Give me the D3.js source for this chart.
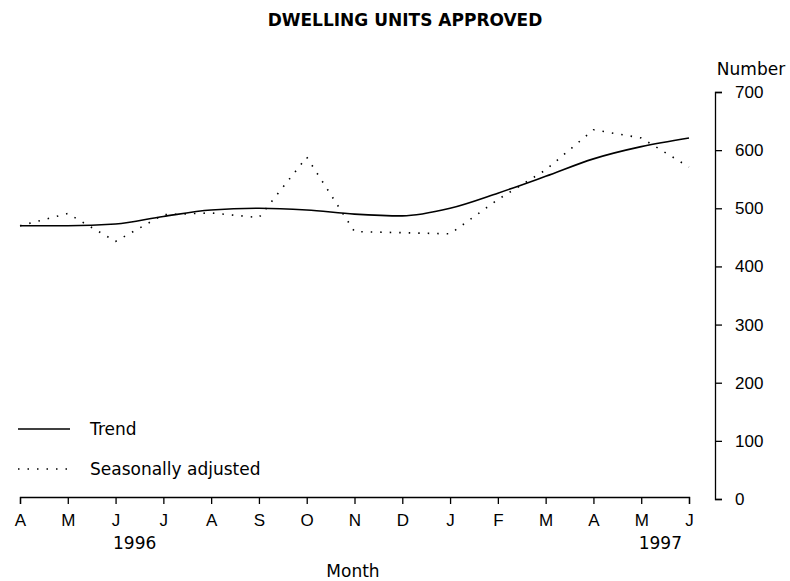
<!DOCTYPE html>
<html>
<head>
<meta charset="utf-8">
<script src="https://cdn.jsdelivr.net/npm/d3@7"></script>
<style>
  body { margin: 0; background: #fff; }
  svg { display: block; font-family: "DejaVu Sans", "Liberation Sans", Arial, sans-serif; }
</style>
</head>
<body>
<svg class="chart" width="790" height="581"></svg>
<script>
const months = ['A','M','J','J','A','S','O','N','D','J','F','M','A','M','J']
const trend = [470,470,473,486,497,500,497,490,487,500,526,555,585,606,621]
const seasonal = [470,491,443,489,492,484,588,460,458,456,515,566,635,621,571]
const yTicks = [0,100,200,300,400,500,600,700]
const years = [{label:'1996', at:2.4},{label:'1997', at:13.4}]

const svg = d3.select('.chart')

const xScale = d3.scalePoint()
  .domain(d3.range(months.length))
  .range([20, 689])

const yScale = d3.scaleLinear()
  .domain([0, 700])
  .range([499, 92])

// title
svg.append('text')
  .attr('x', 405).attr('y', 26)
  .attr('text-anchor', 'middle')
  .attr('font-size', 17).attr('font-weight', 'bold')
  .text('DWELLING UNITS APPROVED')

// right axis
const yAxis = svg.append('g')
  .attr('transform', 'translate(715,0)')
  .call(d3.axisRight(yScale).tickValues(yTicks).tickSize(7).tickSizeOuter(7).tickPadding(13))
yAxis.selectAll('text').attr('font-size', 17).attr('fill', '#000')
yAxis.selectAll('path, line').attr('stroke', '#000').attr('stroke-width', 1.3)

svg.append('text')
  .attr('x', 751).attr('y', 75)
  .attr('text-anchor', 'middle')
  .attr('font-size', 17)
  .text('Number')

// bottom axis
const xAxis = svg.append('g')
  .attr('transform', 'translate(0,497)')
  .call(d3.axisBottom(xScale).tickFormat(i => months[i]).tickSize(7).tickSizeOuter(7).tickPadding(10))
xAxis.selectAll('text').attr('font-size', 17).attr('fill', '#000')
xAxis.selectAll('path, line').attr('stroke', '#000').attr('stroke-width', 1.3)

svg.selectAll('.year')
  .data(years)
  .enter()
  .append('text')
  .attr('class', 'year')
  .attr('x', d => xScale(Math.floor(d.at)) + (d.at % 1) * xScale.step())
  .attr('y', 549)
  .attr('text-anchor', 'middle')
  .attr('font-size', 17)
  .text(d => d.label)

svg.append('text')
  .attr('x', 353).attr('y', 577)
  .attr('text-anchor', 'middle')
  .attr('font-size', 17)
  .text('Month')

// lines
const trendLine = d3.line()
  .x((d, i) => xScale(i))
  .y(d => yScale(d))
  .curve(d3.curveMonotoneX)

const seasonalLine = d3.line()
  .x((d, i) => xScale(i))
  .y(d => yScale(d))

svg.append('path')
  .datum(seasonal)
  .attr('d', seasonalLine)
  .attr('fill', 'none')
  .attr('stroke', '#000')
  .attr('stroke-width', 1.6)
  .attr('stroke-dasharray', '1.5,8')

svg.append('path')
  .datum(trend)
  .attr('d', trendLine)
  .attr('fill', 'none')
  .attr('stroke', '#000')
  .attr('stroke-width', 1.6)

// legend
const legend = [
  {name:'Trend', dash:null, y:429},
  {name:'Seasonally adjusted', dash:'1.5,8', y:469}
]
const lg = svg.selectAll('.legend')
  .data(legend)
  .enter()
  .append('g')
  .attr('class', 'legend')
lg.append('line')
  .attr('x1', 18).attr('x2', 70)
  .attr('y1', d => d.y).attr('y2', d => d.y)
  .attr('stroke', '#000')
  .attr('stroke-width', 1.6)
  .attr('stroke-dasharray', d => d.dash)
lg.append('text')
  .attr('x', 90).attr('y', d => d.y + 6)
  .attr('font-size', 17)
  .text(d => d.name)
</script>
</body>
</html>
